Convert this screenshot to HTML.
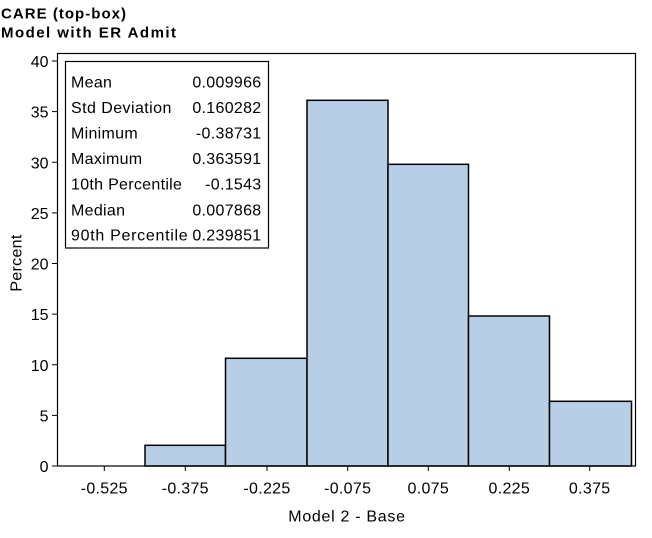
<!DOCTYPE html>
<html><head><meta charset="utf-8"><style>
html,body{margin:0;padding:0;background:#fff;}
svg{display:block;}
text{font-family:"Liberation Sans",sans-serif;fill:#000;}
</style></head><body>
<svg width="652" height="538" viewBox="0 0 652 538" xmlns="http://www.w3.org/2000/svg">
<rect x="0" y="0" width="652" height="538" fill="#fff"/>
<text x="1" y="18.3" font-size="15" font-weight="bold" textLength="125" lengthAdjust="spacing">CARE (top-box)</text>
<text x="1" y="37.3" font-size="15" font-weight="bold" textLength="175" lengthAdjust="spacing">Model with ER Admit</text>

<!-- bars -->
<g fill="#b8cde6" stroke="#000" stroke-width="1.5">
<rect x="145" y="445.3" width="80.5" height="20.7"/>
<rect x="225.5" y="358.3" width="81.5" height="107.7"/>
<rect x="307" y="100.3" width="81" height="365.7"/>
<rect x="388" y="164.3" width="80.5" height="301.7"/>
<rect x="468.5" y="316" width="81" height="150"/>
<rect x="549.5" y="401.3" width="82" height="64.7"/>
</g>

<!-- frame -->
<rect x="57.5" y="53.5" width="578" height="412.5" fill="none" stroke="#000" stroke-width="1.2"/>

<!-- y ticks -->
<g stroke="#000" stroke-width="1">
<line x1="52" y1="466" x2="57" y2="466"/>
<line x1="52" y1="415.4" x2="57" y2="415.4"/>
<line x1="52" y1="364.75" x2="57" y2="364.75"/>
<line x1="52" y1="314.1" x2="57" y2="314.1"/>
<line x1="52" y1="263.5" x2="57" y2="263.5"/>
<line x1="52" y1="212.9" x2="57" y2="212.9"/>
<line x1="52" y1="162.25" x2="57" y2="162.25"/>
<line x1="52" y1="111.6" x2="57" y2="111.6"/>
<line x1="52" y1="61" x2="57" y2="61"/>
</g>
<g font-size="16" text-anchor="end">
<text x="48.5" y="472">0</text>
<text x="48.5" y="421.4">5</text>
<text x="48.5" y="370.75">10</text>
<text x="48.5" y="320.1">15</text>
<text x="48.5" y="269.5">20</text>
<text x="48.5" y="218.9">25</text>
<text x="48.5" y="168.25">30</text>
<text x="48.5" y="117.6">35</text>
<text x="48.5" y="67">40</text>
</g>

<!-- x ticks -->
<g stroke="#000" stroke-width="1">
<line x1="104.3" y1="466" x2="104.3" y2="471"/>
<line x1="185.3" y1="466" x2="185.3" y2="471"/>
<line x1="267" y1="466" x2="267" y2="471"/>
<line x1="347.7" y1="466" x2="347.7" y2="471"/>
<line x1="428.3" y1="466" x2="428.3" y2="471"/>
<line x1="509.3" y1="466" x2="509.3" y2="471"/>
<line x1="589.7" y1="466" x2="589.7" y2="471"/>
</g>
<g font-size="16" text-anchor="middle" letter-spacing="0.3">
<text x="104.3" y="493.5">-0.525</text>
<text x="185.3" y="493.5">-0.375</text>
<text x="267" y="493.5">-0.225</text>
<text x="347.7" y="493.5">-0.075</text>
<text x="428.3" y="493.5">0.075</text>
<text x="509.3" y="493.5">0.225</text>
<text x="589.7" y="493.5">0.375</text>
</g>

<text x="288.3" y="521.5" font-size="16" textLength="116.7" lengthAdjust="spacing">Model 2 - Base</text>
<text transform="translate(21.5,263) rotate(-90)" font-size="16" text-anchor="middle" letter-spacing="0.3">Percent</text>

<!-- stats box -->
<rect x="65.5" y="61.5" width="203" height="186.5" fill="#fff" stroke="#000" stroke-width="1.2"/>
<g font-size="16" letter-spacing="0.3">
<text x="71" y="87.3">Mean</text>
<text x="71" y="112.9" textLength="100.7" lengthAdjust="spacing">Std Deviation</text>
<text x="71" y="138.5">Minimum</text>
<text x="71" y="164.1">Maximum</text>
<text x="71" y="189.7">10th Percentile</text>
<text x="71" y="215.3">Median</text>
<text x="71" y="240.7" textLength="117" lengthAdjust="spacing">90th Percentile</text>
</g>
<g font-size="16" letter-spacing="0.3" text-anchor="end">
<text x="261.5" y="87.3">0.009966</text>
<text x="261.5" y="112.9">0.160282</text>
<text x="261.5" y="138.5">-0.38731</text>
<text x="261.5" y="164.1">0.363591</text>
<text x="261.5" y="189.7">-0.1543</text>
<text x="261.5" y="215.3">0.007868</text>
<text x="261.5" y="240.7">0.239851</text>
</g>
</svg>
</body></html>
